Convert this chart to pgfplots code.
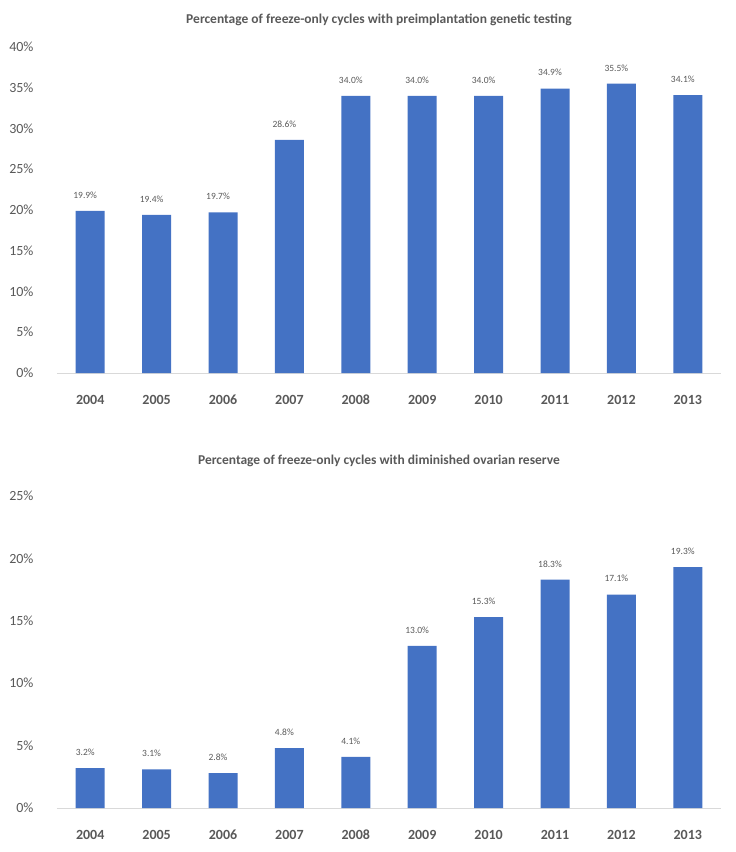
\documentclass[border=0pt]{standalone}
\usepackage{pgfplots}
\pgfplotsset{compat=1.18}
\usepackage{fontspec}
\setmainfont{Carlito}
\definecolor{barblue}{HTML}{4472C4}
\definecolor{txtgray}{HTML}{595959}
\definecolor{axgray}{HTML}{D9D9D9}
\pgfplotsset{
  mybar/.style={
    ybar, bar width=29pt, scale only axis, width=664pt,
    xmin=-0.5, xmax=9.5, ymin=0,
    xtick={0,...,9}, xticklabels={2004,2005,2006,2007,2008,2009,2010,2011,2012,2013},
    separate axis lines,
    axis x line*=bottom, axis y line*=left,
    x axis line style={draw=axgray, line width=0.8pt, -},
    y axis line style={draw=none},
    major tick length=0pt,
    /pgf/number format/assume math mode=true,
    yticklabel={\pgfmathprintnumber{\tick}\%},
    yticklabel style={font=\fontsize{14}{16}\selectfont, text=txtgray, xshift=-20pt},
    xticklabel style={font=\bfseries\fontsize{14}{16}\selectfont, text=txtgray, text height=10pt, text depth=0pt, yshift=-18pt},
    nodes near coords={\pgfmathprintnumber[fixed,fixed zerofill,precision=1]{\pgfplotspointmeta}\%},
    nodes near coords style={font=\fontsize{9.5}{10}\selectfont, text=txtgray, yshift=9pt, xshift=-5pt},
    clip=false,
  }
}
\begin{document}
\begin{tikzpicture}
\path[use as bounding box] (0,0) rectangle (736pt,-852pt);
\node[font=\bfseries\fontsize{13.5}{15}\selectfont, text=txtgray] at (379pt,-20pt) {Percentage of freeze-only cycles with preimplantation genetic testing};
\begin{axis}[mybar, at={(57pt,-373pt)}, anchor=south west, height=326pt, ymax=40, ytick={0,5,...,40}]
\addplot[fill=barblue, draw=none] coordinates {(0,19.9) (1,19.4) (2,19.7) (3,28.6) (4,34.0) (5,34.0) (6,34.0) (7,34.9) (8,35.5) (9,34.1)};
\end{axis}
\node[font=\bfseries\fontsize{13.5}{15}\selectfont, text=txtgray] at (379pt,-461pt) {Percentage of freeze-only cycles with diminished ovarian reserve};
\begin{axis}[mybar, at={(57pt,-808pt)}, anchor=south west, height=312pt, ymax=25, ytick={0,5,...,25}]
\addplot[fill=barblue, draw=none] coordinates {(0,3.2) (1,3.1) (2,2.8) (3,4.8) (4,4.1) (5,13.0) (6,15.3) (7,18.3) (8,17.1) (9,19.3)};
\end{axis}
\end{tikzpicture}
\end{document}
